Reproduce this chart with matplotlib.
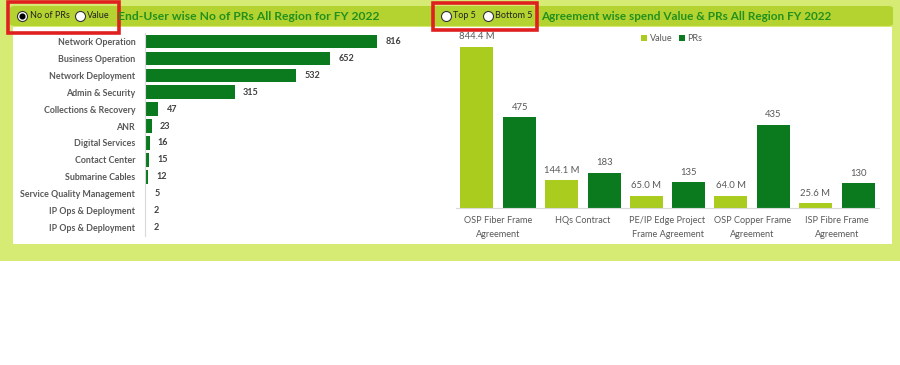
import matplotlib
matplotlib.use("Agg")
import matplotlib.pyplot as plt
from matplotlib.patches import Rectangle, FancyBboxPatch
import numpy as np

plt.rcParams['font.family'] = ['Lato', 'DejaVu Sans']

# ---------------- data ----------------
enduser_cats = ["Network Operation", "Business Operation", "Network Deployment",
                "Admin & Security", "Collections & Recovery", "ANR", "Digital Services",
                "Contact Center", "Submarine Cables", "Service Quality Management",
                "IP Ops & Deployment", "IP Ops & Deployment"]
enduser_prs = [816, 652, 532, 315, 47, 23, 16, 15, 12, 5, 2, 2]

agreement_cats = ["OSP Fiber Frame\nAgreement", "HQs Contract",
                  "PE/IP Edge Project\nFrame Agreement", "OSP Copper Frame\nAgreement",
                  "ISP Fibre Frame\nAgreement"]
agreement_value_m = [844.4, 144.1, 65.0, 64.0, 25.6]
agreement_prs = [475, 183, 135, 435, 130]

left_title = "End-User wise No of PRs All Region for FY 2022"
right_title = "Agreement wise spend Value & PRs All Region FY 2022"

# ---------------- colors ----------------
PANEL = "#d6eb74"
HEADER = "#b4d331"
DARK = "#0b7a1f"
LIGHT = "#a9cc1e"
TITLE = "#23901c"
GRAY_TXT = "#595959"
LBL_TXT = "#404040"

W, H = 900, 365
fig = plt.figure(figsize=(W / 100, H / 100), dpi=100)
fig.patch.set_facecolor("white")


def fx(x):
    return x / W


def fy(y):
    return 1 - y / H


def rect(x0, y0, x1, y1, **kw):
    fig.add_artist(Rectangle((fx(x0), fy(y1)), fx(x1) - fx(x0), (y1 - y0) / H,
                             transform=fig.transFigure, **kw))


# background panel
rect(0, 0, 900, 261, facecolor=PANEL, edgecolor="none", zorder=0)
# header bar
fig.add_artist(FancyBboxPatch((fx(10), fy(26)), fx(893) - fx(10), 20 / H,
                              boxstyle="round,pad=0,rounding_size=0.006",
                              transform=fig.transFigure, facecolor=HEADER,
                              edgecolor="none", zorder=1))
# white chart area
rect(13, 27, 892, 244, facecolor="white", edgecolor="none", zorder=1)

# red boxes
rect(8, 2, 119, 33, facecolor="none", edgecolor="#e02020", linewidth=2.6, zorder=5)
rect(433, 3, 537, 30, facecolor="none", edgecolor="#e02020", linewidth=2.6, zorder=5)


def radio_sc(x, y, selected):
    fig.add_artist(plt.Line2D([fx(x)], [fy(y)], marker='o', markersize=7.2,
                              markerfacecolor="white", markeredgecolor="#333333",
                              markeredgewidth=0.8, transform=fig.transFigure, zorder=6))
    if selected:
        fig.add_artist(plt.Line2D([fx(x)], [fy(y)], marker='o', markersize=3.4,
                                  markerfacecolor="black", markeredgecolor="black",
                                  transform=fig.transFigure, zorder=7))


radio_sc(22, 16, True)
fig.text(fx(30), fy(16), "No of PRs", fontsize=6.5, color="#222222", va="center", zorder=8)
radio_sc(80, 16, False)
fig.text(fx(87), fy(16), "Value", fontsize=6.5, color="#222222", va="center", zorder=8)
radio_sc(446, 16, False)
fig.text(fx(453), fy(16), "Top 5", fontsize=6.5, color="#222222", va="center", zorder=8)
radio_sc(488, 16, False)
fig.text(fx(495), fy(16), "Bottom 5", fontsize=6.5, color="#222222", va="center", zorder=8)

fig.text(fx(118), fy(16), left_title, fontsize=8.7, fontweight="bold", color=TITLE,
         va="center", zorder=8)
fig.text(fx(541), fy(16), right_title, fontsize=8.45, fontweight="bold", color=TITLE,
         va="center", zorder=8)

# ---------------- left chart ----------------
axL = fig.add_axes([fx(145), fy(236), fx(400) - fx(145), (236 - 33) / H], zorder=3)
axL.set_facecolor("none")
yL = np.arange(len(enduser_cats))
axL.barh(yL, enduser_prs, height=0.8, color=DARK)
axL.set_ylim(len(enduser_cats) - 0.5, -0.5)
axL.set_xlim(0, 897)
axL.set_yticks(yL)
axL.set_yticklabels(enduser_cats, fontsize=6.4, fontweight="bold", color=GRAY_TXT)
axL.tick_params(axis="y", length=0, pad=7)
axL.set_xticks([])
for s in ["top", "right", "bottom"]:
    axL.spines[s].set_visible(False)
axL.spines["left"].set_color("#d9d9d9")
axL.spines["left"].set_linewidth(0.8)
for yi, v in zip(yL, enduser_prs):
    axL.annotate(f"{v}", (v, yi), xytext=(6, 0), textcoords="offset points",
                 va="center", ha="left", fontsize=6.5, fontweight="bold", color=LBL_TXT)

# ---------------- right chart ----------------
axR = fig.add_axes([fx(456), fy(208), fx(879) - fx(456), 172 / H], zorder=3)
axR.set_facecolor("none")
xR = np.arange(len(agreement_cats))
bw = 0.39
off = 0.254
axR.bar(xR - off, agreement_value_m, width=bw, color=LIGHT, label="Value")
axR.bar(xR + off, agreement_prs, width=bw, color=DARK, label="PRs")
axR.set_xlim(-0.5, len(agreement_cats) - 0.5)
axR.set_ylim(0, 900)
axR.set_yticks([])
axR.set_xticks(xR)
axR.set_xticklabels(agreement_cats, fontsize=6.6, color=GRAY_TXT, linespacing=1.6)
axR.tick_params(axis="x", length=0, pad=6)
for s in ["top", "right", "left"]:
    axR.spines[s].set_visible(False)
axR.spines["bottom"].set_color("#d9d9d9")
axR.spines["bottom"].set_linewidth(0.8)
for xi, v in zip(xR, agreement_value_m):
    axR.annotate(f"{v:.1f} M", (xi - off, v), xytext=(0, 4), textcoords="offset points",
                 ha="center", va="bottom", fontsize=6.8, color=GRAY_TXT)
for xi, v in zip(xR, agreement_prs):
    axR.annotate(f"{v}", (xi + off, v), xytext=(0, 4), textcoords="offset points",
                 ha="center", va="bottom", fontsize=6.8, color=GRAY_TXT)
leg = axR.legend(loc="upper center", bbox_to_anchor=((672 - 456) / (879 - 456), 1.03),
                 ncol=2, frameon=False, fontsize=6.5, handlelength=0.6, handleheight=0.6,
                 handletextpad=0.3, columnspacing=0.8, borderaxespad=0)
for t in leg.get_texts():
    t.set_color(GRAY_TXT)

fig.savefig("out.png", dpi=100, facecolor="white")
